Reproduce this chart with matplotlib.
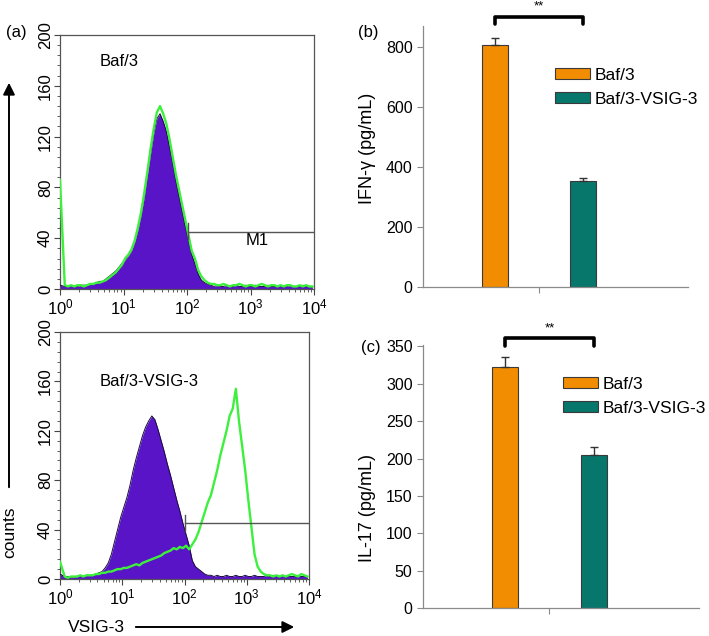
import numpy as np
import matplotlib
matplotlib.use('Agg')
import matplotlib.pyplot as plt
from matplotlib.ticker import MultipleLocator, LogLocator, NullFormatter

plt.rcParams['font.family'] = ['Liberation Sans', 'DejaVu Sans']

#%% Histogramme (counts, 20 Kanaele pro Dekade, 10^0 .. 10^4)
log_edges = np.linspace(0, 4, 81)

baf3_ctrl = [3, 2, 2, 3, 2, 2, 3, 3, 3, 4,
             4, 5, 6, 6, 8, 10, 12, 14, 17, 20,
             23, 26, 30, 37, 46, 58, 72, 90, 106, 122,
             134, 138, 132, 124, 112, 99, 85, 73, 61, 49,
             38, 27, 20, 12, 7, 5, 4, 3, 2, 3,
             2, 2, 3, 2, 2, 3, 2, 2, 3, 2,
             2, 3, 2, 2, 2, 3, 2, 2, 2, 3,
             2, 2, 3, 2, 2, 2, 3, 2, 2, 2]
baf3_stain = [86, 3, 2, 3, 2, 3, 3, 2, 3, 4,
              4, 5, 5, 6, 7, 9, 11, 13, 16, 19,
              24, 27, 31, 38, 48, 60, 75, 92, 110, 126,
              139, 144, 138, 130, 118, 104, 90, 78, 66, 54,
              42, 30, 24, 15, 10, 7, 5, 4, 4, 3,
              3, 4, 3, 2, 3, 3, 4, 3, 2, 3,
              3, 2, 3, 4, 3, 2, 3, 3, 2, 3,
              2, 3, 3, 2, 2, 3, 2, 3, 2, 2]
vsig3_ctrl = [4, 2, 2, 1, 2, 2, 3, 2, 3, 3,
              3, 4, 5, 6, 9, 13, 20, 30, 40, 50,
              58, 66, 76, 88, 98, 107, 116, 123, 128, 132,
              129, 121, 112, 103, 93, 84, 74, 64, 55, 45,
              36, 27, 15, 10, 8, 6, 4, 3, 3, 2,
              3, 2, 2, 3, 2, 2, 3, 2, 2, 3,
              2, 2, 3, 2, 2, 2, 3, 2, 3, 2,
              2, 3, 2, 2, 2, 2, 3, 2, 2, 2]
vsig3_stain = [14, 2, 1, 2, 2, 2, 3, 2, 3, 3,
               3, 4, 4, 5, 5, 6, 6, 7, 8, 8,
               9, 9, 10, 11, 12, 11, 13, 14, 15, 16,
               17, 18, 19, 21, 22, 23, 25, 24, 26, 25,
               27, 24, 28, 32, 38, 46, 54, 62, 68, 78,
               88, 100, 110, 120, 132, 138, 154, 128, 108, 88,
               64, 42, 20, 10, 6, 4, 3, 3, 2, 3,
               2, 3, 2, 3, 4, 3, 2, 4, 3, 2]

#%% Balken (pg/mL)
groups = ['Baf/3', 'Baf/3-VSIG-3']
ifn_mean = [805, 353]
ifn_err = [25, 11]
il17_mean = [322, 205]
il17_err = [14, 10]

purple = '#5A14C8'
green = '#3CF03C'
bar_cols = ['#F28C00', '#07776C']

W, H = 709, 636
fig = plt.figure(figsize=(W / 100, H / 100), dpi=100)


def px_axes(l, r, t, b):
    return fig.add_axes([l / W, 1 - b / H, (r - l) / W, (b - t) / H])


def hist_panel(ax, ctrl, stain, label, mark_x, m1=False):
    # Kanalmitten, erster Kanal direkt an 10^0
    xc = 10 ** (log_edges[:-1] + 0.025)
    xc[0] = 1.0
    ax.fill_between(xc, ctrl, 0, color=purple, lw=0, zorder=2)
    ax.plot(xc, ctrl, color='#1a0d3c', lw=0.7, zorder=3)
    ax.plot(xc, stain, color=green, lw=1.7, zorder=4)
    ax.plot([mark_x, 1e4], [45, 45], color='#555555', lw=1, zorder=5)
    ax.plot([mark_x, mark_x], [39, 52], color='#555555', lw=1, zorder=5)
    if m1:
        ax.text(10 ** 3.1, 38, 'M1', fontsize=12, ha='center', va='center')
    ax.text(10 ** 0.63, 160 if not m1 else 179, label, fontsize=12,
            ha='left', va='center')
    ax.set_xscale('log')
    ax.set_xlim(1, 1e4)
    ax.set_ylim(0, 200)
    ax.xaxis.set_major_locator(LogLocator(base=10, numticks=10))
    ax.xaxis.set_minor_locator(LogLocator(base=10, subs=np.arange(2, 10), numticks=10))
    ax.xaxis.set_minor_formatter(NullFormatter())
    ax.yaxis.set_minor_locator(MultipleLocator(8))
    ax.set_yticks([0, 40, 80, 120, 160, 200])
    ax.set_yticklabels(['0', '40', '80', '120', '160', '200'], rotation=90, va='center')
    ax.tick_params(which='major', direction='out', length=4, width=0.8,
                   labelsize=12, color='#444444')
    ax.tick_params(which='minor', direction='out', length=2.5, width=0.6,
                   color='#444444')
    ax.tick_params(axis='x', pad=2)
    ax.tick_params(axis='y', pad=1)
    for s in ax.spines.values():
        s.set_color('#555555')
        s.set_linewidth(0.9)


ax1 = px_axes(60, 314, 35, 289)
hist_panel(ax1, baf3_ctrl, baf3_stain, 'Baf/3', 105, m1=True)

ax2 = px_axes(60, 309, 332, 579)
hist_panel(ax2, vsig3_ctrl, vsig3_stain, 'Baf/3-VSIG-3', 102)

# counts- und VSIG-3-Pfeile
fig.text(6 / W, 1 - 33 / H, '(a)', fontsize=12, ha='left', va='center')
fig.text(10 / W, 1 - 532 / H, 'counts', fontsize=12.5, rotation=90, ha='center', va='center')
fig.add_artist(matplotlib.patches.FancyArrowPatch(
    (9 / W, 1 - 490 / H), (9 / W, 1 - 80 / H), transform=fig.transFigure,
    arrowstyle='-|>,head_length=7,head_width=3.5', color='black', lw=1.4))
fig.text(68 / W, 1 - 628 / H, 'VSIG-3', fontsize=12.5, ha='left', va='center')
fig.add_artist(matplotlib.patches.FancyArrowPatch(
    (133 / W, 1 - 627 / H), (297 / W, 1 - 627 / H), transform=fig.transFigure,
    arrowstyle='-|>,head_length=7,head_width=3.5', color='black', lw=1.4))


def bar_panel(ax, mean, err, xlim, ylim, step, width, ylabel, lab_xy, letter, letter_xy,
              brk, leg_anchor):
    pos = [-0.5, 0.5]
    bars = ax.bar(pos, mean, width, color=bar_cols, edgecolor='#3a3a3a', lw=0.8,
                  label=groups, zorder=2)
    ax.errorbar(pos, mean, yerr=[[0, 0], err], fmt='none', ecolor='#333333',
                elinewidth=1, capsize=3, capthick=1, zorder=3)
    ax.set_xlim(*xlim)
    ax.set_ylim(*ylim)
    ax.yaxis.set_major_locator(MultipleLocator(step))
    ax.set_xticks([0])
    ax.set_xticklabels([''])
    for s in ['top', 'right']:
        ax.spines[s].set_visible(False)
    for s in ['left', 'bottom']:
        ax.spines[s].set_color('#8a8a8a')
        ax.spines[s].set_linewidth(0.9)
    ax.tick_params(direction='out', length=4, width=0.8, color='#8a8a8a',
                   labelsize=11.5)
    fig.text(lab_xy[0] / W, 1 - lab_xy[1] / H, ylabel, fontsize=13, rotation=90,
             ha='center', va='center')
    fig.text(letter_xy[0] / W, 1 - letter_xy[1] / H, letter, fontsize=12,
             ha='center', va='center')
    y0, y1, ys = brk
    ax.plot([pos[0], pos[0], pos[1], pos[1]], [y0, y1, y1, y0], color='black',
            lw=2.6, clip_on=False, solid_capstyle='round', solid_joinstyle='round')
    ax.text(0, ys, '**', fontsize=9.5, ha='center', va='center', clip_on=False)
    ax.legend(handles=list(bars), labels=groups, loc='upper left',
              bbox_to_anchor=leg_anchor, frameon=False, fontsize=12.5,
              handlelength=2.0, handleheight=0.6, handletextpad=0.3,
              labelspacing=0.5, borderpad=0, borderaxespad=0)


axb = px_axes(423, 688, 26, 287)
bar_panel(axb, ifn_mean, ifn_err, (-1.32, 1.69), (0, 870), 200, 0.30,
          'IFN-\u03b3 (pg/mL)', (367, 148), '(b)', (368, 33),
          (877, 899, 935), ((555 - 423) / 265, 1 - (68 - 26) / 261))

axc = px_axes(423, 699, 345, 608)
bar_panel(axc, il17_mean, il17_err, (-1.42, 1.68), (0, 352), 50, 0.29,
          'IL-17 (pg/mL)', (367, 508), '(c)', (371, 347),
          (351, 361, 374), ((563 - 423) / 276, 1 - (377 - 345) / 263))

fig.savefig('out.png', dpi=100)
